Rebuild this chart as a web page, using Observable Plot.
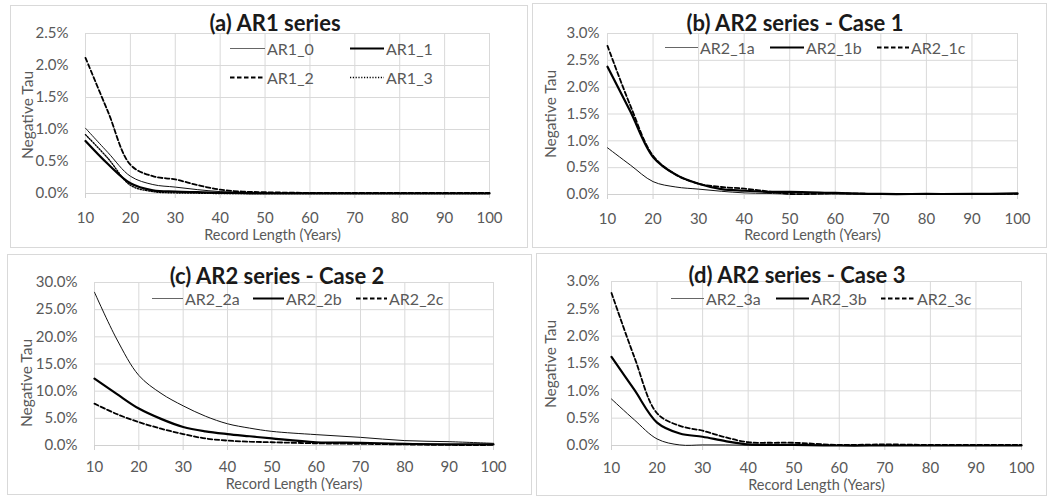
<!DOCTYPE html>
<html><head><meta charset="utf-8">
<script src="https://cdn.jsdelivr.net/npm/d3@7"></script>
<script src="https://cdn.jsdelivr.net/npm/@observablehq/plot@0.6"></script>
<style>
body{margin:0;background:#fff;font-family:Lato, sans-serif;}
#wrap{position:relative;width:1048px;height:496px;overflow:hidden;background:#fff;}
.box{position:absolute;border:1px solid #d9d9d9;box-sizing:border-box;}
.ttl{position:absolute;transform:translate(-50%,-50%);font-weight:bold;font-size:22px;color:#1a1a1a;white-space:nowrap;font-family:Lato,sans-serif;}
.leg{position:absolute;display:flex;align-items:center;font-size:16px;color:#595959;white-space:nowrap;transform:translateY(-50%);font-family:Lato,sans-serif;}
.leg svg{display:block;margin-right:2px;}
.ytl{position:absolute;transform:translate(-50%,-50%) rotate(-90deg);font-size:15.5px;color:#595959;white-space:nowrap;font-family:Lato,sans-serif;}
.pl{position:absolute;}
</style></head><body><div id="wrap"></div>
<script>
// ---------------- data ----------------
const years = [10, 15, 20, 25, 30, 35, 40, 45, 50, 60, 70, 80, 90, 100];
const xTicks = [10, 20, 30, 40, 50, 60, 70, 80, 90, 100];
const yTicksA = [0, 0.005, 0.01, 0.015, 0.02, 0.025];
const yTicksB = [0, 0.005, 0.01, 0.015, 0.02, 0.025, 0.03];
const yTicksC = [0, 0.05, 0.10, 0.15, 0.20, 0.25, 0.30];
const yTicksD = [0, 0.005, 0.01, 0.015, 0.02, 0.025, 0.03];

// values in percent
const AR1_0 = [1.02, 0.64, 0.27, 0.14, 0.10, 0.06, 0.03, 0.02, 0.01, 0.01, 0.005, 0.005, 0.005, 0.005];
const AR1_1 = [0.82, 0.46, 0.16, 0.05, 0.03, 0.02, 0.01, 0.005, 0, 0, 0, 0, 0, 0];
const AR1_2 = [2.12, 1.28, 0.45, 0.27, 0.22, 0.13, 0.06, 0.03, 0.02, 0.01, 0.01, 0.01, 0.01, 0.01];
const AR1_3 = [0.92, 0.55, 0.13, 0.03, 0.01, 0.005, 0, 0, 0, 0, 0, 0, 0, 0];

const AR2_1a = [0.87, 0.55, 0.24, 0.14, 0.10, 0.06, 0.03, 0.02, 0.01, 0.01, 0.01, 0.01, 0.01, 0.01];
const AR2_1b = [2.38, 1.55, 0.70, 0.37, 0.20, 0.10, 0.07, 0.05, 0.05, 0.03, 0.01, 0.01, 0.01, 0.02];
const AR2_1c = [2.77, 1.66, 0.72, 0.37, 0.20, 0.14, 0.11, 0.06, 0.01, 0.02, 0.01, 0.01, 0.01, 0.01];

const AR2_2a = [28.2, 19.6, 12.9, 9.6, 7.3, 5.4, 4.0, 3.2, 2.6, 2.0, 1.5, 0.9, 0.7, 0.4];
const AR2_2b = [12.3, 9.5, 6.8, 4.9, 3.4, 2.6, 2.1, 1.7, 1.3, 0.6, 0.5, 0.3, 0.2, 0.2];
const AR2_2c = [7.7, 5.8, 4.3, 3.1, 2.1, 1.3, 0.9, 0.7, 0.6, 0.4, 0.3, 0.2, 0.1, 0.1];

const AR2_3a = [0.85, 0.47, 0.12, 0.01, 0.01, 0.01, 0.005, 0, 0, 0, 0, 0, 0, 0];
const AR2_3b = [1.62, 1.02, 0.42, 0.22, 0.16, 0.08, 0.02, 0.01, 0.01, 0, 0, 0, 0, 0];
const AR2_3c = [2.79, 1.62, 0.59, 0.36, 0.27, 0.15, 0.06, 0.05, 0.05, 0.01, 0.02, 0.01, 0.01, 0.01];

const yLabel = "Negative Tau";
const xLabel = "Record Length (Years)";

// ---------------- styles ----------------
const styles = {
  thin:  {stroke: "#111", strokeWidth: 1},
  thick: {stroke: "#000", strokeWidth: 2.2},
  dash:  {stroke: "#000", strokeWidth: 1.8, strokeDasharray: "4.5,2.5"},
  dot:   {stroke: "#000", strokeWidth: 1.4, strokeDasharray: "1.2,1.6"}
};

const panels = [
  {title: "(a) AR1 series", box: [10, 5, 528, 248], frame: [85, 489, 33, 193], yDomain: [0, 0.025], yTicks: yTicksA,
   series: [["AR1_0", AR1_0, "thin"], ["AR1_1", AR1_1, "thick"], ["AR1_2", AR1_2, "dash"], ["AR1_3", AR1_3, "dot"]],
   titlePos: [275, 22], yPad: 17, xPad: 19, yTitle: [27, 115], xTitle: [-15, 239],
   legend: [[230, 48, 35], [350, 48, 34], [230, 77, 35], [350, 77, 34]]},
  {title: "(b) AR2 series - Case 1", box: [532, 3, 1047, 248], frame: [607, 1017, 33, 194], yDomain: [0, 0.03], yTicks: yTicksB,
   series: [["AR2_1a", AR2_1a, "thin"], ["AR2_1b", AR2_1b, "thick"], ["AR2_1c", AR2_1c, "dash"]],
   titlePos: [795, 22], yPad: 8, xPad: 19, yTitle: [550, 114], xTitle: [0, 239],
   legend: [[665, 47, 33], [770, 47, 34], [877, 47, 32]]},
  {title: "(c) AR2 series - Case 2", box: [7, 254, 532, 495], frame: [94, 493, 282, 445], yDomain: [0, 0.30], yTicks: yTicksC,
   series: [["AR2_2a", AR2_2a, "thin"], ["AR2_2b", AR2_2b, "thick"], ["AR2_2c", AR2_2c, "dash"]],
   titlePos: [277, 275], yPad: 17, xPad: 16, yTitle: [26, 383], xTitle: [0, 488],
   legend: [[152, 298, 31], [253, 298, 31], [356, 298, 31]]},
  {title: "(d) AR2 series - Case 3", box: [536, 253, 1047, 496], frame: [611, 1021, 281, 445], yDomain: [0, 0.03], yTicks: yTicksD,
   series: [["AR2_3a", AR2_3a, "thin"], ["AR2_3b", AR2_3b, "thick"], ["AR2_3c", AR2_3c, "dash"]],
   titlePos: [797, 274], yPad: 12, xPad: 17, yTitle: [550, 364], xTitle: [0, 489],
   legend: [[671, 298, 33], [776, 298, 33], [881, 298, 34]]}
];

const wrap = document.getElementById("wrap");
const grid = "#d9d9d9";
const textCol = "#595959";

for (const p of panels) {
  const [bl, bt, br, bb] = p.box;
  const [fl, fr, ft, fb] = p.frame;
  const box = document.createElement("div");
  box.className = "box";
  Object.assign(box.style, {left: bl + "px", top: bt + "px", width: (br - bl) + "px", height: (bb - bt) + "px"});
  wrap.appendChild(box);

  const marks = [
    Plot.gridY(p.yTicks, {stroke: grid, strokeOpacity: 1}),
    Plot.gridX(xTicks, {stroke: grid, strokeOpacity: 1}),
    Plot.axisY(p.yTicks, {tickSize: 0, tickPadding: p.yPad, tickFormat: d3.format(".1%"), fill: textCol, label: null, fontSize: 15}),
    Plot.axisX(xTicks, {tickSize: 5, tickPadding: p.xPad - 5, stroke: "#d0d0d0", fill: textCol, label: null, fontSize: 15}),
    Plot.ruleY([0], {stroke: "#d0d0d0"}),
    Plot.text([xLabel], {text: d => d, frameAnchor: "bottom", dx: p.xTitle[0], dy: p.xTitle[1] - fb, fill: textCol, fontSize: 14.5})
  ];
  for (const [name, vals, st] of p.series) {
    const rows = years.map((x, i) => ({x, y: vals[i] / 100}));
    marks.push(Plot.line(rows, {x: "x", y: "y", curve: "catmull-rom", ...styles[st]}));
  }
  const svg = Plot.plot({
    width: br - bl, height: bb - bt,
    marginLeft: fl - bl, marginRight: br - fr, marginTop: ft - bt, marginBottom: bb - fb,
    x: {domain: [10, 100], axis: null},
    y: {domain: p.yDomain, axis: null},
    style: {fontFamily: "Lato, sans-serif", fontSize: "15px", background: "transparent", overflow: "visible"},
    marks
  });
  svg.classList.add("pl");
  Object.assign(svg.style, {left: bl + "px", top: bt + "px"});
  wrap.appendChild(svg);

  const yt = document.createElement("div");
  yt.className = "ytl";
  yt.textContent = yLabel;
  Object.assign(yt.style, {left: p.yTitle[0] + "px", top: p.yTitle[1] + "px"});
  wrap.appendChild(yt);

  const t = document.createElement("div");
  t.className = "ttl";
  t.textContent = p.title;
  Object.assign(t.style, {left: p.titlePos[0] + "px", top: p.titlePos[1] + "px"});
  wrap.appendChild(t);

  p.series.forEach(([name, vals, st], i) => {
    const [lx, ly, len] = p.legend[i];
    const s = styles[st];
    const item = document.createElement("div");
    item.className = "leg";
    Object.assign(item.style, {left: lx + "px", top: ly + "px"});
    const ns = "http://www.w3.org/2000/svg";
    const sv = document.createElementNS(ns, "svg");
    sv.setAttribute("width", len); sv.setAttribute("height", 10);
    const ln = document.createElementNS(ns, "line");
    ln.setAttribute("x1", 0); ln.setAttribute("x2", len); ln.setAttribute("y1", 5); ln.setAttribute("y2", 5);
    ln.setAttribute("stroke", st === "thin" ? "#666" : s.stroke);
    ln.setAttribute("stroke-width", s.strokeWidth);
    if (s.strokeDasharray) ln.setAttribute("stroke-dasharray", s.strokeDasharray);
    sv.appendChild(ln);
    item.appendChild(sv);
    const sp = document.createElement("span");
    sp.textContent = name;
    item.appendChild(sp);
    wrap.appendChild(item);
  });
}
</script></body></html>
